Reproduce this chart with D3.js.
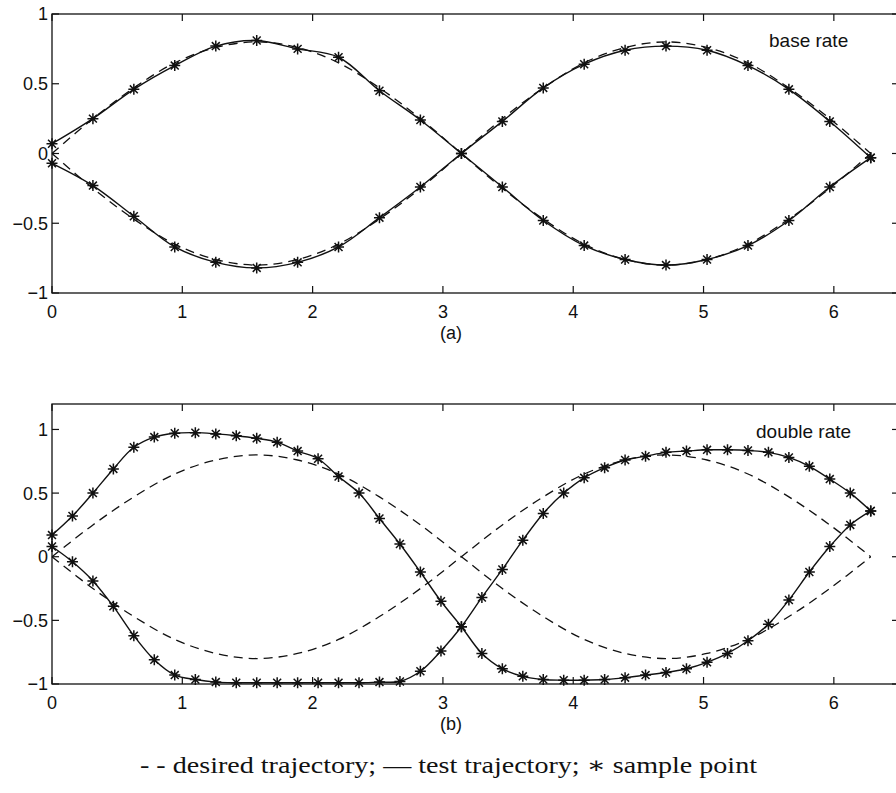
<!DOCTYPE html>
<html>
<head>
<meta charset="utf-8">
<script src="https://cdn.jsdelivr.net/npm/d3@7"></script>
<style>
  body { margin: 0; background: #fff; }
  svg { display: block; }
</style>
</head>
<body>
<div id="chart"></div>
<script>
var w = 896
var h = 793

// sample times (rad)
var t_base = [0, 0.314, 0.628, 0.942, 1.257, 1.571, 1.885, 2.199, 2.513, 2.827, 3.142,
  3.456, 3.770, 4.084, 4.398, 4.712, 5.027, 5.341, 5.655, 5.969, 6.283]
var t_double = [0, 0.157, 0.314, 0.471, 0.628, 0.785, 0.942, 1.100, 1.257, 1.414, 1.571,
  1.728, 1.885, 2.042, 2.199, 2.356, 2.513, 2.670, 2.827, 2.985, 3.142,
  3.299, 3.456, 3.613, 3.770, 3.927, 4.084, 4.241, 4.398, 4.555, 4.712,
  4.869, 5.027, 5.184, 5.341, 5.498, 5.655, 5.812, 5.969, 6.126, 6.283]

// desired trajectories (dashed), read at t_base
var desired_up = [0, 0.25, 0.47, 0.65, 0.76, 0.80, 0.76, 0.65, 0.47, 0.25, 0,
  -0.25, -0.47, -0.65, -0.76, -0.80, -0.76, -0.65, -0.47, -0.25, 0]
var desired_down = [0, -0.25, -0.47, -0.65, -0.76, -0.80, -0.76, -0.65, -0.47, -0.25, 0,
  0.25, 0.47, 0.65, 0.76, 0.80, 0.76, 0.65, 0.47, 0.25, 0]

// (a) base rate test trajectories
var base_up = [0.07, 0.25, 0.46, 0.63, 0.77, 0.81, 0.75, 0.69, 0.45, 0.24, 0.0,
  -0.24, -0.48, -0.66, -0.76, -0.80, -0.76, -0.66, -0.48, -0.24, -0.03]
var base_down = [-0.07, -0.23, -0.45, -0.67, -0.78, -0.82, -0.78, -0.67, -0.46, -0.24, 0.0,
  0.23, 0.47, 0.64, 0.74, 0.77, 0.74, 0.63, 0.46, 0.23, -0.03]

// (b) double rate test trajectories
var double_up = [0.17, 0.32, 0.50, 0.69, 0.86, 0.94, 0.97, 0.975, 0.965, 0.95, 0.93,
  0.90, 0.83, 0.77, 0.63, 0.50, 0.30, 0.10, -0.12, -0.35, -0.55,
  -0.76, -0.88, -0.94, -0.965, -0.97, -0.97, -0.965, -0.95, -0.93, -0.91,
  -0.88, -0.83, -0.76, -0.66, -0.53, -0.34, -0.12, 0.08, 0.25, 0.36]
var double_down = [0.08, -0.04, -0.19, -0.39, -0.62, -0.81, -0.93, -0.965, -0.985, -0.99, -0.99,
  -0.99, -0.99, -0.99, -0.99, -0.99, -0.985, -0.98, -0.90, -0.74, -0.55,
  -0.32, -0.10, 0.13, 0.34, 0.50, 0.62, 0.70, 0.76, 0.79, 0.82,
  0.83, 0.84, 0.84, 0.835, 0.82, 0.78, 0.71, 0.61, 0.50, 0.36]

var x_ticks = [0, 1, 2, 3, 4, 5, 6]
var y_ticks = [-1, -0.5, 0, 0.5, 1]
var y_tick_labels = ['\u22121', '\u22120.5', '0', '0.5', '1']

var svg = d3.select('#chart').append('svg')
  .attr('width', w)
  .attr('height', h)
  .style('font-family', '"Liberation Sans", Arial, sans-serif')

function star (x, y, r) {
  var d = r * 0.72
  return 'M' + (x - r) + ',' + y + 'H' + (x + r) +
    'M' + x + ',' + (y - r) + 'V' + (y + r) +
    'M' + (x - d) + ',' + (y - d) + 'L' + (x + d) + ',' + (y + d) +
    'M' + (x - d) + ',' + (y + d) + 'L' + (x + d) + ',' + (y - d)
}

function panel (cfg) {
  var m = cfg.box
  var sx = d3.scaleLinear().domain([0, 6.5]).range([m.left, m.right])
  var sy = d3.scaleLinear().domain(cfg.ydomain).range([m.bottom, m.top])
  var g = svg.append('g')
  var tl = 7

  // box
  g.append('rect')
    .attr('x', m.left).attr('y', m.top)
    .attr('width', m.right - m.left).attr('height', m.bottom - m.top)
    .attr('fill', 'none').attr('stroke', '#111').attr('stroke-width', 1.3)

  // inward ticks
  x_ticks.forEach(function (v) {
    g.append('line').attr('x1', sx(v)).attr('x2', sx(v))
      .attr('y1', m.bottom).attr('y2', m.bottom - tl)
      .attr('stroke', '#111').attr('stroke-width', 1.2)
    g.append('line').attr('x1', sx(v)).attr('x2', sx(v))
      .attr('y1', m.top).attr('y2', m.top + tl)
      .attr('stroke', '#111').attr('stroke-width', 1.2)
    g.append('text').text(v)
      .attr('x', sx(v)).attr('y', m.bottom + 24.5)
      .attr('text-anchor', 'middle')
      .style('font-size', '18px').attr('fill', '#111')
  })
  cfg.yticks.forEach(function (v, i) {
    g.append('line').attr('x1', m.left).attr('x2', m.left + tl)
      .attr('y1', sy(v)).attr('y2', sy(v))
      .attr('stroke', '#111').attr('stroke-width', 1.2)
    g.append('line').attr('x1', m.right).attr('x2', m.right - tl)
      .attr('y1', sy(v)).attr('y2', sy(v))
      .attr('stroke', '#111').attr('stroke-width', 1.2)
    g.append('text').text(cfg.ylabels[i])
      .attr('x', m.left - 4).attr('y', sy(v))
      .attr('dy', '0.36em')
      .attr('text-anchor', 'end')
      .style('font-size', '18px').attr('fill', '#111')
  })

  var line_smooth = function (t) {
    return d3.line()
      .x(function (d, i) { return sx(t[i]) })
      .y(function (d) { return sy(d) })
      .curve(d3.curveCatmullRom.alpha(0.5))
  }

  // desired (dashed)
  ;[desired_up, desired_down].forEach(function (s) {
    g.append('path').datum(s)
      .attr('d', line_smooth(t_base))
      .attr('fill', 'none').attr('stroke', '#111')
      .attr('stroke-width', 1.3)
      .attr('stroke-dasharray', '9,6')
  })

  // test (solid) + samples
  cfg.series.forEach(function (s) {
    g.append('path').datum(s)
      .attr('d', line_smooth(cfg.t))
      .attr('fill', 'none').attr('stroke', '#111')
      .attr('stroke-width', 1.4)
    s.forEach(function (v, i) {
      g.append('path')
        .attr('d', star(sx(cfg.t[i]), sy(v), 5.5))
        .attr('stroke', '#111').attr('stroke-width', 1.5)
        .attr('fill', 'none')
    })
  })

  g.append('text').text(cfg.label)
    .attr('x', cfg.labelx).attr('y', cfg.labely)
    .style('font-size', '19px').attr('fill', '#111')

  g.append('text').text(cfg.caption)
    .attr('x', 451).attr('y', m.bottom + 46)
    .attr('text-anchor', 'middle')
    .style('font-size', '18px').attr('fill', '#111')
}

panel({
  box: { left: 52, right: 899, top: 14, bottom: 293 },
  ydomain: [-1, 1],
  yticks: y_ticks,
  ylabels: y_tick_labels,
  t: t_base,
  series: [base_up, base_down],
  label: 'base rate',
  labelx: 769, labely: 47,
  caption: '(a)'
})

panel({
  box: { left: 52, right: 899, top: 404, bottom: 684 },
  ydomain: [-1, 1.2],
  yticks: y_ticks,
  ylabels: y_tick_labels,
  t: t_double,
  series: [double_up, double_down],
  label: 'double rate',
  labelx: 756, labely: 438,
  caption: '(b)'
})

svg.append('text')
  .text('- - desired trajectory; \u2014 test trajectory; \u2217 sample point')
  .attr('x', 140).attr('y', 773)
  .attr('textLength', 617)
  .attr('lengthAdjust', 'spacingAndGlyphs')
  .style('font-family', '"Liberation Serif", "DejaVu Serif", serif')
  .style('font-size', '23px')
  .attr('fill', '#111')
</script>
</body>
</html>
